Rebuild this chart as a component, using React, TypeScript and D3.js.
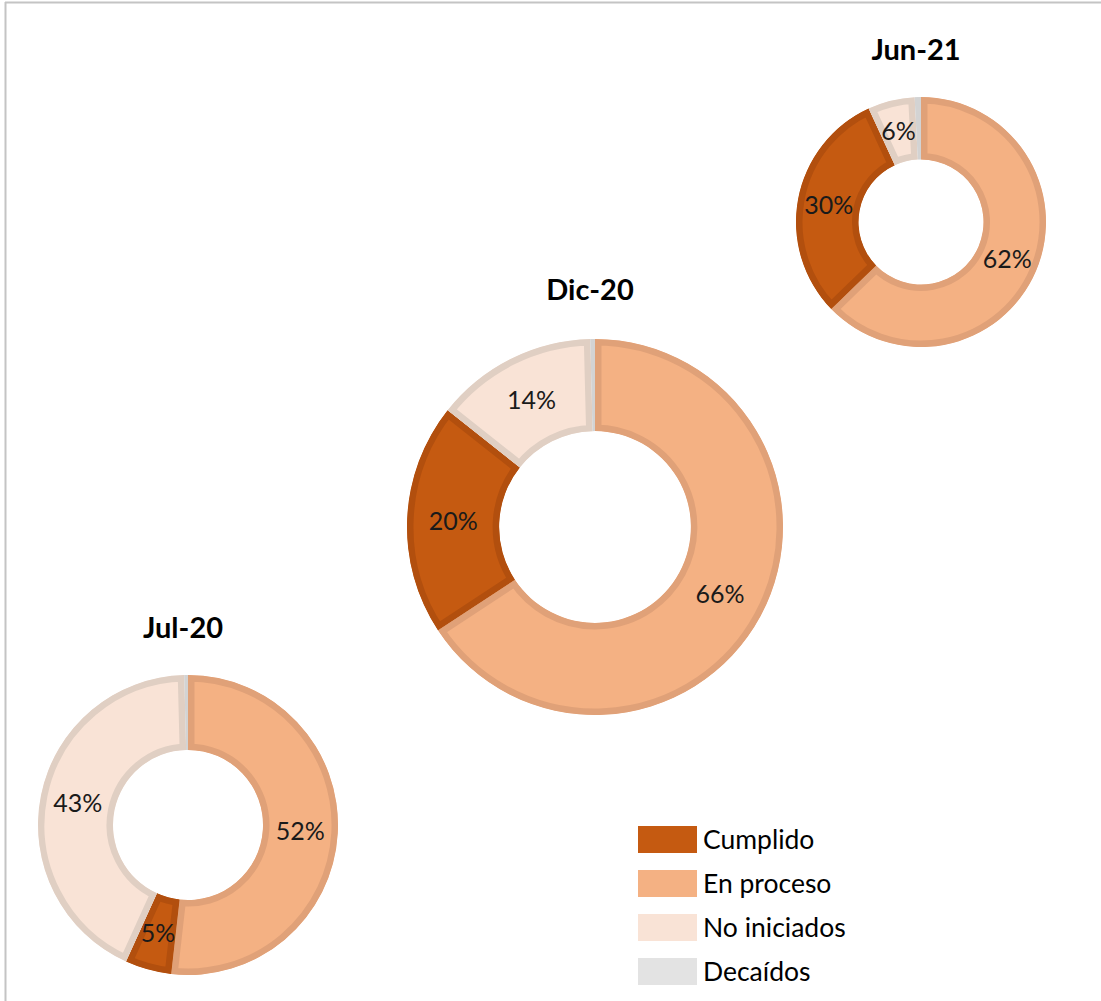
import React from "react";
import * as d3 from "d3";

// ---- data ----
const periods = ["Jul-20", "Dic-20", "Jun-21"];
const sliceOrder = ["En proceso", "Cumplido", "No iniciados", "Decaídos"];
const legendOrder = ["Cumplido", "En proceso", "No iniciados", "Decaídos"];
const enProceso = [52, 66, 62];
const cumplido = [5, 20, 30];
const noIniciados = [43, 14, 6];
const decaidos = [0.4, 0.4, 0.8];

// ---- styles / layout ----
const W = 1101;
const H = 1001;
const FONT = "Lato, 'Open Sans', sans-serif";
const fills: Record<string, string> = {
  "Cumplido": "#C55A11",
  "En proceso": "#F4B183",
  "No iniciados": "#F9E3D6",
  "Decaídos": "#E3E3E3",
};
const strokes: Record<string, string> = {
  "Cumplido": "#B24F0E",
  "En proceso": "#E0A178",
  "No iniciados": "#E0CFC3",
  "Decaídos": "#D3D3D3",
};
const donuts = [
  { cx: 188, cy: 825, r: 150, hole: 0.5, titleY: 628 },
  { cx: 595, cy: 527, r: 188, hole: 0.51, titleY: 290 },
  { cx: 921, cy: 222, r: 125, hole: 0.5, titleY: 50 },
];
const STROKE = 13;

export default function App() {
  const pie = d3
    .pie<{ key: string; value: number }>()
    .sort(null)
    .value((d) => d.value);

  return (
    <svg
      width={W}
      height={H}
      style={{ position: "absolute", left: 0, top: 0, background: "#fff" }}
    >
      <rect x={0} y={0} width={W} height={H} fill="#fff" />
      <line x1={5} y1={2.5} x2={W} y2={2.5} stroke="#c4c4c4" strokeWidth={2} />
      <line x1={5.5} y1={2} x2={5.5} y2={H} stroke="#c4c4c4" strokeWidth={2} />
      {periods.map((p, i) => {
        const g = donuts[i];
        const vals = [enProceso[i], cumplido[i], noIniciados[i], decaidos[i]];
        const data = sliceOrder.map((k, j) => ({ key: k, value: vals[j] }));
        const arcs = pie(data);
        const arc = d3
          .arc<d3.PieArcDatum<{ key: string; value: number }>>()
          .innerRadius(g.r * g.hole)
          .outerRadius(g.r);
        return (
          <g key={p} transform={`translate(${g.cx},${g.cy})`}>
            <defs>
              {arcs.map((a, j) => (
                <clipPath id={`clip-${i}-${j}`} key={j}>
                  <path d={arc(a) || ""} />
                </clipPath>
              ))}
            </defs>
            {arcs.map((a, j) => (
              <path
                key={j}
                d={arc(a) || ""}
                fill={fills[a.data.key]}
                stroke={strokes[a.data.key]}
                strokeWidth={STROKE}
                clipPath={`url(#clip-${i}-${j})`}
              />
            ))}
            {arcs.map((a, j) => {
              if (a.data.key === "Decaídos") return null;
              const [x, y] = arc.centroid(a);
              return (
                <text
                  key={`t${j}`}
                  x={x}
                  y={y}
                  dy="0.36em"
                  textAnchor="middle"
                  fontFamily={FONT}
                  fontSize={25}
                  fill="#1a1a1a"
                >
                  {`${a.data.value}%`}
                </text>
              );
            })}
            <text
              x={-5}
              y={g.titleY - g.cy}
              dy="0.36em"
              textAnchor="middle"
              fontFamily={FONT}
              fontWeight="bold"
              fontSize={29}
              fill="#000"
            >
              {p}
            </text>
          </g>
        );
      })}
      <g>
        {legendOrder.map((k, i) => (
          <g key={k} transform={`translate(638,${826 + i * 44})`}>
            <rect width={59} height={27} fill={fills[k]} />
            <text
              x={65}
              y={13.5}
              dy="0.36em"
              fontFamily={FONT}
              fontSize={26.5}
              fill="#000"
            >
              {k}
            </text>
          </g>
        ))}
      </g>
    </svg>
  );
}
